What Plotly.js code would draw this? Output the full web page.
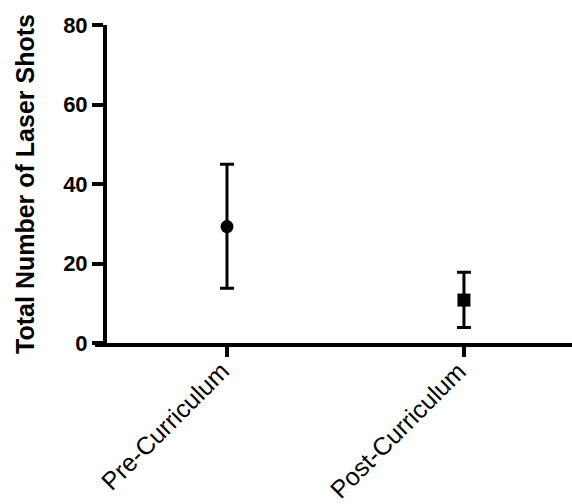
<!DOCTYPE html>
<html>
<head>
<script src="https://cdn.plot.ly/plotly-3.0.1.min.js"></script>
<style>html,body{margin:0;padding:0;background:#fff;}#chart{width:572px;height:504px;}</style>
</head>
<body>
<div id="chart"></div>
<script>
const categories = ["Pre-Curriculum", "Post-Curriculum"];
const means = [29.3, 10.8];
const upper = [45.0, 17.8];
const lower = [13.8, 3.9];
const markerSymbols = ["circle", "square"];
const yTicks = [0, 20, 40, 60, 80];

const traces = categories.map((c, i) => ({
  type: "scatter",
  mode: "markers",
  x: [c],
  y: [means[i]],
  marker: {symbol: markerSymbols[i], size: 13, color: "#000"},
  error_y: {
    type: "data", symmetric: false,
    array: [upper[i] - means[i]],
    arrayminus: [means[i] - lower[i]],
    color: "#000", thickness: 3, width: 7
  },
  showlegend: false,
  hoverinfo: "skip"
}));

const catLabels = categories.map(c => ({
  x: c, xref: "x", y: 0, yref: "y",
  text: c, showarrow: false, textangle: -45,
  xanchor: "right", yanchor: "top",
  xshift: 10, yshift: -11,
  font: {size: 25, family: "Liberation Sans, Arial, sans-serif", color: "#000"}
}));

const layout = {
  width: 572, height: 504,
  margin: {l: 95, r: 0, t: 25, b: 161},
  paper_bgcolor: "#fff", plot_bgcolor: "#fff",
  font: {family: "Liberation Sans, Arial, sans-serif", color: "#000"},
  annotations: catLabels,
  xaxis: {
    type: "category",
    range: [-0.557, 1.456],
    showgrid: false, zeroline: false,
    showline: true, linecolor: "#000", linewidth: 4,
    ticks: "outside", ticklen: 10, tickwidth: 4, tickcolor: "#000",
    showticklabels: false
  },
  yaxis: {
    anchor: "free", position: 0.021,
    range: [0, 80],
    tickvals: yTicks,
    ticktext: yTicks.map(String),
    showgrid: false, zeroline: false,
    showline: true, linecolor: "#000", linewidth: 4,
    ticks: "outside", ticklen: 11, tickwidth: 4, tickcolor: "#000",
    tickfont: {size: 22, family: "Liberation Sans, Arial, sans-serif", weight: "bold"},
    title: {text: "<b>Total Number of Laser Shots</b>", font: {size: 25}, standoff: 20}
  }
};

Plotly.newPlot("chart", traces, layout, {displayModeBar: false, staticPlot: true});
</script>
</body>
</html>
